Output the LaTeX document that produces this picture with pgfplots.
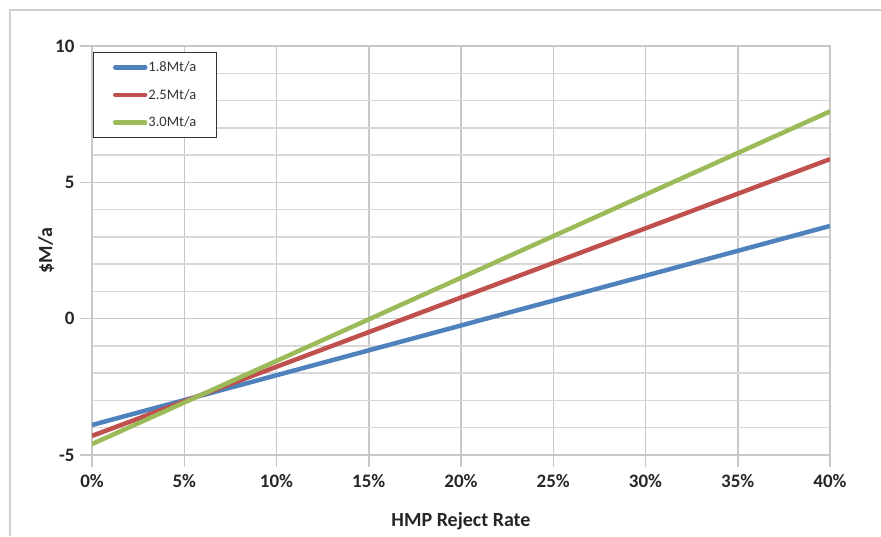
\documentclass[border=0pt]{standalone}
\usepackage{pgfplots}
\pgfplotsset{compat=1.18}
\usepackage{fontspec}
\setmainfont{Carlito}
\definecolor{xblue}{HTML}{4F81BD}
\definecolor{xred}{HTML}{C0504D}
\definecolor{xgreen}{HTML}{9BBB59}
\definecolor{xgrid}{HTML}{C8C8C8}
\definecolor{xframe}{HTML}{D0D0D0}
\begin{document}
\begin{tikzpicture}[x=1pt,y=1pt]
\draw[xframe, line width=1.5pt] (10,0) -- (10,526) -- (881,526);
\begin{axis}[
  at={(92pt,81pt)}, anchor=south west,
  scale only axis, width=738pt, height=409pt,
  xmin=0, xmax=40, ymin=-5, ymax=10,
  xtick={0,5,...,40},
  xticklabels={0\%,5\%,10\%,15\%,20\%,25\%,30\%,35\%,40\%},
  ytick={-5,0,5,10},
  minor ytick={-4,-3,-2,-1,1,2,3,4,6,7,8,9},
  grid=both,
  major grid style={xgrid, line width=1.5pt},
  minor grid style={xgrid!70, line width=1.5pt},
  axis line style={xgrid, line width=1.5pt},
  tick style={xgrid, line width=1.5pt},
  major tick length=12pt,
  minor tick length=0pt,
  tick align=outside,
  xtick pos=bottom, ytick pos=left,
  ticklabel style={font=\fontsize{19}{22}\selectfont\bfseries, text=black!85},
  /pgf/number format/assume math mode=true,
  xticklabel style={yshift=-4pt},
  yticklabel style={xshift=-2pt},
  xlabel={HMP Reject Rate},
  ylabel={\$M/a},
  label style={font=\fontsize{20}{23}\selectfont\bfseries, text=black!85},
  xlabel style={yshift=-18pt},
  ylabel style={yshift=-6pt},
  legend style={at={(0.002,0.985)}, anchor=north west, draw=black!80, line width=1pt,
     font=\fontsize{14.5}{16}\selectfont, row sep=14pt, inner xsep=19pt, inner ysep=8pt,
     nodes={inner xsep=1pt, inner ysep=1pt, text=black!80},
     cells={anchor=west}},
  legend image code/.code={\draw[#1, line cap=round] (0pt,0pt) -- (30pt,0pt);},
]
\addplot[xblue, line width=4.5pt] coordinates {(0,-3.9) (40,3.4)};
\addlegendentry{1.8Mt/a}
\addplot[xred, line width=4.5pt] coordinates {(0,-4.3) (40,5.85)};
\addlegendentry{2.5Mt/a}
\addplot[xgreen, line width=4.5pt] coordinates {(0,-4.6) (40,7.6)};
\addlegendentry{3.0Mt/a}
\end{axis}
\pgfresetboundingbox
\useasboundingbox (0,0) rectangle (881,536);
\end{tikzpicture}
\end{document}
